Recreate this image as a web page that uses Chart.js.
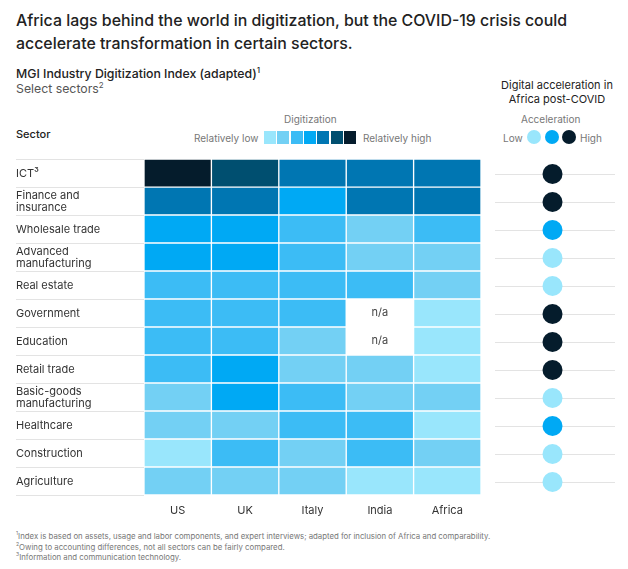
<!DOCTYPE html>
<html>
<head>
<meta charset="utf-8">
<script src="https://cdn.jsdelivr.net/npm/chart.js@4"></script>
<style>
  html, body { margin: 0; padding: 0; background: #fff; }
  body { width: 628px; height: 569px; position: relative; overflow: hidden; font-family: Inter, sans-serif; color: #2b2b2b; }
  .t { position: absolute; white-space: nowrap; }
  canvas { position: absolute; }
  sup { font-size: 65%; line-height: 0; }
  .swatch { position: absolute; top: 131px; width: 12px; height: 13px; }
  .dot { position: absolute; top: 130px; width: 14px; height: 14px; border-radius: 50%; }
</style>
</head>
<body>
<div class="t" style="left:16px;top:9px;font-size:15.9px;line-height:23px;font-weight:500;color:#222">Africa lags behind the world in digitization, but the COVID-19 crisis could<br>accelerate transformation in certain sectors.</div>
<div class="t" style="left:16px;top:66px;font-size:12.3px;font-weight:500;color:#222">MGI Industry Digitization Index (adapted)<sup>1</sup></div>
<div class="t" style="left:16px;top:81px;font-size:12.3px;color:#555">Select sectors<sup>2</sup></div>
<div class="t" style="left:494px;width:126px;top:78px;font-size:11px;line-height:14px;text-align:center;color:#222">Digital acceleration in<br>Africa post-COVID</div>
<div class="t" style="left:284px;top:113px;font-size:10px;color:#777">Digitization</div>
<div class="t" style="left:16px;top:127px;font-size:11px;font-weight:500;color:#222">Sector</div>
<div class="t" style="left:194px;top:132px;font-size:10px;color:#777">Relatively low</div>
<div class="t" style="left:363px;top:132px;font-size:10px;color:#777">Relatively high</div>
<div class="t" style="left:521px;top:113px;font-size:10px;color:#777">Acceleration</div>
<div class="t" style="left:503px;top:132px;font-size:10px;color:#777">Low</div>
<div class="t" style="left:580px;top:132px;font-size:10px;color:#777">High</div>
<div id="scale"></div>
<canvas id="heatChart" width="490" height="375" style="left:0;top:150px"></canvas>
<canvas id="accelChart" width="140" height="356" style="left:485px;top:150px"></canvas>
<div class="t" style="left:16px;top:531px;font-size:7.8px;line-height:10.5px;color:#777"><sup>1</sup>Index is based on assets, usage and labor components, and expert interviews; adapted for inclusion of Africa and comparability.<br><sup>2</sup>Owing to accounting differences, not all sectors can be fairly compared.<br><sup>3</sup>Information and communication technology.</div>

<script>
const sectors = ['ICT³', ['Finance and', 'insurance'], 'Wholesale trade', ['Advanced', 'manufacturing'],
    'Real estate', 'Government', 'Education', 'Retail trade', ['Basic-goods', 'manufacturing'],
    'Healthcare', 'Construction', 'Agriculture'];
const countries = ['US', 'UK', 'Italy', 'India', 'Africa'];

// digitization level per sector, 1 = relatively low, 7 = relatively high, null = n/a
const usLevels = [7, 5, 4, 4, 3, 3, 3, 3, 2, 2, 1, 2];
const ukLevels = [6, 5, 4, 4, 3, 3, 3, 4, 4, 2, 3, 2];
const italyLevels = [5, 4, 3, 3, 3, 3, 2, 2, 3, 3, 2, 2];
const indiaLevels = [5, 5, 2, 2, 3, null, null, 2, 2, 3, 3, 1];
const africaLevels = [5, 5, 3, 2, 2, 1, 1, 1, 2, 1, 2, 1];
const levelColumns = [usLevels, ukLevels, italyLevels, indiaLevels, africaLevels];

// acceleration per sector: 0 low, 1 medium, 2 high
const accelLevels = [2, 2, 1, 0, 0, 2, 2, 2, 0, 1, 0, 0];

const levelColors = ['#99e6fc', '#73d0f4', '#3cbcf5', '#00a9f4', '#0076b2', '#004f70', '#051c2c'];
const accelColors = ['#99e6fc', '#00a9f4', '#051c2c'];

Chart.defaults.font.family = 'Inter, sans-serif';
Chart.defaults.animation = false;

// legend swatches
const scaleBox = document.getElementById('scale');
levelColors.forEach((c, i) => {
    const el = document.createElement('div');
    el.className = 'swatch';
    el.style.left = (264 + i * 13.3) + 'px';
    el.style.background = c;
    scaleBox.appendChild(el);
});
accelColors.forEach((c, i) => {
    const el = document.createElement('div');
    el.className = 'dot';
    el.style.left = (527 + i * 17.5) + 'px';
    el.style.background = c;
    scaleBox.appendChild(el);
});

// writes n/a into the cells with no level
const naLabels = {
    id: 'naLabels',
    afterDatasetsDraw(chart) {
        const { ctx, scales: { x, y } } = chart;
        ctx.save();
        ctx.font = '11px Inter, sans-serif';
        ctx.fillStyle = '#444';
        ctx.textAlign = 'center';
        ctx.textBaseline = 'middle';
        levelColumns.forEach((col, c) => col.forEach((v, r) => {
            if (v === null) ctx.fillText('n/a', x.getPixelForValue(c + 0.5), y.getPixelForValue(r));
        }));
        ctx.restore();
    }
};

new Chart(document.getElementById('heatChart'), {
    type: 'bar',
    data: {
        labels: sectors,
        datasets: countries.map((name, c) => ({
            label: name,
            data: levelColumns[c].map(v => (v === null ? null : [c, c + 1])),
            backgroundColor: levelColumns[c].map(v => (v === null ? '#fff' : levelColors[v - 1])),
            borderColor: '#fff',
            borderWidth: 1,
            borderSkipped: false,
            barPercentage: 1,
            categoryPercentage: 1,
            grouped: false
        }))
    },
    options: {
        indexAxis: 'y',
        responsive: false,
        layout: { padding: { left: 16, right: 9, top: 9, bottom: 0 } },
        plugins: { legend: { display: false }, tooltip: { enabled: false } },
        scales: {
            x: {
                type: 'linear',
                min: 0,
                max: countries.length,
                afterBuildTicks: s => { s.ticks = countries.map((n, i) => ({ value: i + 0.5 })); },
                afterFit: s => { s.height = 30; },
                grid: { display: false },
                border: { display: false },
                ticks: {
                    callback: v => countries[v - 0.5],
                    maxRotation: 0,
                    padding: 1,
                    color: '#333',
                    font: { size: 11 }
                }
            },
            y: {
                type: 'category',
                offset: true,
                afterFit: s => { s.width = 128; },
                border: { display: false },
                grid: {
                    drawOnChartArea: false,
                    tickLength: 128,
                    color: ctx => (ctx.index === sectors.length ? 'rgba(0,0,0,0)' : '#e3e3e3')
                },
                ticks: {
                    crossAlign: 'far',
                    autoSkip: false,
                    labelOffset: 1,
                    color: '#333',
                    font: { size: 11, lineHeight: 1.1 }
                }
            }
        }
    },
    plugins: [naLabels]
});

new Chart(document.getElementById('accelChart'), {
    type: 'bubble',
    data: {
        labels: sectors,
        datasets: [{
            data: accelLevels.map((v, r) => ({ x: 0.5, y: r, r: 10 })),
            backgroundColor: accelLevels.map(v => accelColors[v]),
            borderWidth: 0
        }]
    },
    options: {
        responsive: false,
        layout: { padding: { left: 6, right: 7, top: 9, bottom: 0 } },
        plugins: { legend: { display: false }, tooltip: { enabled: false } },
        scales: {
            x: { min: 0, max: 1.043, display: false },
            y: {
                type: 'category',
                offset: true,
                afterFit: s => { s.width = 0; },
                border: { display: false },
                grid: { color: '#e3e3e3', drawTicks: false },
                ticks: { display: false }
            }
        }
    }
});
</script>
</body>
</html>
